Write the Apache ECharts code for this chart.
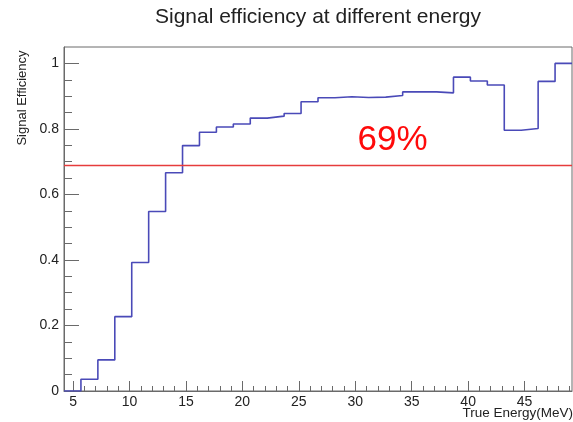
<!DOCTYPE html>
<html>
<head>
<meta charset="utf-8">
<title>Signal efficiency at different energy</title>
<script src="https://cdn.jsdelivr.net/npm/echarts@6/dist/echarts.min.js"></script>
<style>
  html, body { margin: 0; padding: 0; background: #ffffff; }
  #chart { width: 573px; height: 422px; }
</style>
</head>
<body>
<div id="chart"></div>
<script>
// Histogram bin edges (MeV) and the efficiency in each bin
const binEdges = [4.2, 5.7, 7.2, 8.7, 10.2, 11.7, 13.2, 14.7, 16.2, 17.7, 19.2,
  20.7, 22.2, 23.7, 25.2, 26.7, 28.2, 29.7, 31.2, 32.7, 34.2, 35.7, 37.2, 38.7,
  40.2, 41.7, 43.2, 44.7, 46.2, 47.7, 49.2];
const efficiency = [0, 0.036, 0.095, 0.227, 0.392, 0.548, 0.666, 0.749, 0.790,
  0.806, 0.815, 0.833, 0.839, 0.847, 0.883, 0.895, 0.898, 0.896, 0.897, 0.902,
  0.913, 0.913, 0.910, 0.958, 0.946, 0.934, 0.796, 0.801, 0.945, 1.0];

// Reference efficiency level
const thresholdValue = 0.69;

// Axis ticks
const xMajorTicks = [5, 10, 15, 20, 25, 30, 35, 40, 45];
const xMinorTicks = [6, 7, 8, 9, 11, 12, 13, 14, 16, 17, 18, 19, 21, 22, 23, 24,
  26, 27, 28, 29, 31, 32, 33, 34, 36, 37, 38, 39, 41, 42, 43, 44, 46, 47, 48, 49];
const yMajorTicks = [0, 0.2, 0.4, 0.6, 0.8, 1];
const yMinorTicks = [0.05, 0.1, 0.15, 0.25, 0.3, 0.35, 0.45, 0.5, 0.55, 0.65,
  0.7, 0.75, 0.85, 0.9, 0.95];

const chartTitle = 'Signal efficiency at different energy';
const xTitle = 'True Energy(MeV)';
const yTitle = 'Signal Efficiency';

const FONT = '"Liberation Sans", Arial, Helvetica, sans-serif';
const AXIS_COLOR = '#6a6a6a';
const TEXT_COLOR = '#222222';

// Step points: each bin drawn flat from its low edge to its high edge
const stepPoints = efficiency.map((v, i) => [binEdges[i], v]);
stepPoints.push([binEdges[binEdges.length - 1], efficiency[efficiency.length - 1]]);

const xRange = { min: binEdges[0], max: binEdges[binEdges.length - 1] };
const yRange = { min: 0, max: 1.05 };

const chart = echarts.init(document.getElementById('chart'), null, { renderer: 'canvas' });

chart.setOption({
  animation: false,
  backgroundColor: '#ffffff',
  grid: {
    left: 64, top: 47, right: 1, bottom: 31,
    show: true,
    borderColor: AXIS_COLOR,
    borderWidth: 1,
    backgroundColor: 'transparent'
  },
  xAxis: [
    {
      type: 'value',
      min: xRange.min, max: xRange.max,
      axisLine: { show: true, onZero: false, lineStyle: { color: AXIS_COLOR, width: 1 } },
      axisTick: { show: true, inside: true, length: 10, customValues: xMajorTicks,
        lineStyle: { color: AXIS_COLOR, width: 1 } },
      axisLabel: { show: true, customValues: xMajorTicks, margin: 4,
        fontFamily: FONT, fontSize: 14, color: TEXT_COLOR },
      splitLine: { show: false }
    },
    {
      type: 'value',
      position: 'bottom',
      min: xRange.min, max: xRange.max,
      axisLine: { show: false },
      axisTick: { show: true, inside: true, length: 5, customValues: xMinorTicks,
        lineStyle: { color: AXIS_COLOR, width: 1 } },
      axisLabel: { show: false },
      splitLine: { show: false }
    }
  ],
  yAxis: [
    {
      type: 'value',
      min: yRange.min, max: yRange.max,
      axisLine: { show: true, onZero: false, lineStyle: { color: AXIS_COLOR, width: 1 } },
      axisTick: { show: true, inside: true, length: 15, customValues: yMajorTicks,
        lineStyle: { color: AXIS_COLOR, width: 1 } },
      axisLabel: { show: true, customValues: yMajorTicks, margin: 5,
        fontFamily: FONT, fontSize: 14, color: TEXT_COLOR,
        formatter: v => String(v) },
      splitLine: { show: false }
    },
    {
      type: 'value',
      position: 'left',
      min: yRange.min, max: yRange.max,
      axisLine: { show: false },
      axisTick: { show: true, inside: true, length: 8, customValues: yMinorTicks,
        lineStyle: { color: AXIS_COLOR, width: 1 } },
      axisLabel: { show: false },
      splitLine: { show: false }
    }
  ],
  series: [
    {
      name: 'efficiency',
      type: 'line',
      xAxisIndex: 0,
      yAxisIndex: 0,
      step: 'end',
      data: stepPoints,
      showSymbol: false,
      symbol: 'none',
      lineStyle: { color: '#4a4ab8', width: 1.6 },
      silent: true,
      z: 3,
      markLine: {
        silent: true,
        symbol: ['none', 'none'],
        label: { show: false },
        lineStyle: { color: '#e63c3c', width: 1.3, type: 'solid' },
        data: [{ yAxis: thresholdValue }]
      },
      markPoint: {
        silent: true,
        symbol: 'circle',
        symbolSize: 0,
        itemStyle: { color: 'transparent' },
        label: {
          show: true,
          position: 'top',
          distance: 7,
          formatter: () => Math.round(thresholdValue * 100) + '%',
          fontFamily: FONT,
          fontSize: 35,
          color: '#ff0a0a'
        },
        data: [{ coord: [33.3, thresholdValue] }]
      }
    }
  ],
  graphic: [
    {
      type: 'text',
      x: 318, y: 7,
      silent: true,
      style: { text: chartTitle, fontFamily: FONT, fontSize: 21,
        fill: TEXT_COLOR, align: 'center', verticalAlign: 'top' }
    },
    {
      type: 'text',
      x: 22, y: 98,
      rotation: Math.PI / 2,
      silent: true,
      style: { text: yTitle, fontFamily: FONT, fontSize: 13,
        fill: TEXT_COLOR, align: 'center', verticalAlign: 'middle' }
    },
    {
      type: 'text',
      x: 573, y: 406,
      silent: true,
      style: { text: xTitle, fontFamily: FONT, fontSize: 13.5,
        fill: TEXT_COLOR, align: 'right', verticalAlign: 'top' }
    }
  ]
});
</script>
</body>
</html>
